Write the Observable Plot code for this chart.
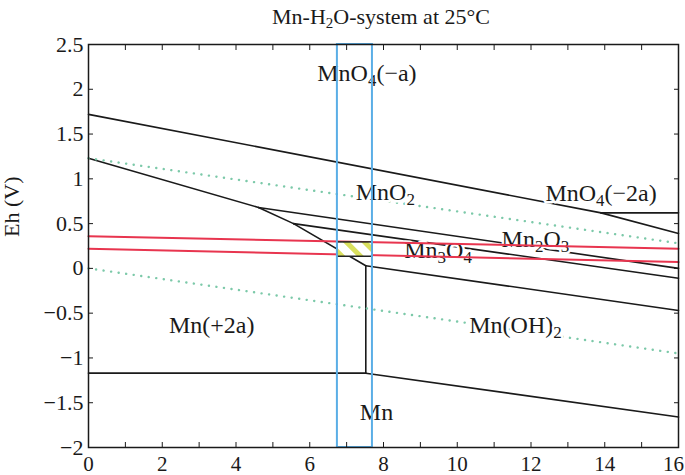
<!DOCTYPE html>
<html><head><meta charset="utf-8">
<script src="https://cdn.jsdelivr.net/npm/d3@7"></script>
<script src="https://cdn.jsdelivr.net/npm/@observablehq/plot@0.6"></script>
<style>
body{margin:0;background:#fff;font-family:"Liberation Serif","Times New Roman",serif;color:#1a1a1a;}
#title{position:relative;height:28px;width:685px;}
#title span{position:absolute;left:381px;top:6px;transform:translateX(-50%);font-size:22px;line-height:22px;white-space:nowrap;}
#title sub{font-size:15px;line-height:0;vertical-align:-4px;}
#chart svg text{font-family:"Liberation Serif","Times New Roman",serif !important;}
</style></head><body>
<div id="title"><span>Mn-H<sub>2</sub>O-system at 25°C</span></div>
<div id="chart"></div>
<script>
// axis domains and ticks
const xDomain = [0, 16];
const yDomain = [-2, 2.5];
const xTicks = [0,1,2,3,4,5,6,7,8,9,10,11,12,13,14,15,16];
const yTicks = [-2,-1.5,-1,-0.5,0,0.5,1,1.5,2,2.5];

// phase boundaries [pH, Eh]
const segMnO4a_MnO2   = [[0,1.72],[13.9,0.62]];
const segMnO4a_MnO4b  = [[13.9,0.62],[16,0.62]];
const segMnO4b_MnO2   = [[13.9,0.62],[16,0.39]];
const segMnO2_Mn2     = [[0,1.23],[4.61,0.68]];
const segMnO2_Mn2O3   = [[4.61,0.68],[16,0.0]];
const segMn2O3_Mn2    = [[4.61,0.68],[5.56,0.50]];
const segMn2O3_Mn3O4  = [[5.56,0.50],[16,-0.11]];
const segMn3O4_Mn2    = [[5.56,0.50],[7.52,0.03]];
const segMn3O4_MnOH2  = [[7.52,0.03],[16,-0.47]];
const segMn2_MnOH2    = [[7.52,0.03],[7.52,-1.17]];
const segMn2_Mn       = [[0,-1.17],[7.52,-1.17]];
const segMnOH2_Mn     = [[7.52,-1.17],[16,-1.66]];

// water stability lines
const waterUpper = [[0,1.23],[16,0.28]];
const waterLower = [[0,0.0],[16,-0.95]];

// red lines
const redUpper = [[0,0.36],[16,0.22]];
const redLower = [[0,0.22],[16,0.07]];

// highlighted pH window and hatched box
const bandX = [6.75, 7.7];
const hatchY = [0.13, 0.29];

// region labels
const labelNames = ["MnO_4(−a)","MnO_2","MnO_4(−2a)","Mn_2O_3","Mn_3O_4","Mn(+2a)","Mn(OH)_2","Mn"];
const labelX = [7.55, 8.05, 13.9, 12.12, 9.48, 3.34, 11.58, 7.81];
const labelY = [2.18, 0.85, 0.84, 0.33, 0.20, -0.64, -0.64, -1.61];

const toRows = (id, pts) => pts.map(([x, y]) => ({id, x, y}));
const blackData = [
  ["a", segMnO4a_MnO2], ["b", segMnO4a_MnO4b], ["c", segMnO4b_MnO2], ["d", segMnO2_Mn2],
  ["e", segMnO2_Mn2O3], ["f", segMn2O3_Mn2], ["g", segMn2O3_Mn3O4], ["h", segMn3O4_Mn2],
  ["i", segMn3O4_MnOH2], ["j", segMn2_MnOH2], ["k", segMn2_Mn], ["l", segMnOH2_Mn]
].flatMap(([id, p]) => toRows(id, p));
const waterData = [...toRows("u", waterUpper), ...toRows("l", waterLower)];
const redData = [...toRows("u", redUpper), ...toRows("l", redLower)];
const labels = labelNames.map((t, i) => ({t, x: labelX[i], y: labelY[i]}));
const band = [{x1: bandX[0], x2: bandX[1], y1: yDomain[0], y2: yDomain[1]}];
const hatch = [{x1: bandX[0], x2: bandX[1], y1: hatchY[0], y2: hatchY[1]}];

const ink = "#1a1a1a";
const chart = Plot.plot({
  width: 685, height: 447,
  marginLeft: 88, marginRight: 7, marginTop: 16, marginBottom: 28,
  x: {domain: xDomain},
  y: {domain: yDomain},
  style: {fontFamily: "Liberation Serif, serif", fontSize: "22px", color: ink, background: "white"},
  marks: [
    Plot.line(blackData, {x: "x", y: "y", z: "id", stroke: ink, strokeWidth: 1.6}),
    Plot.line(waterData, {x: "x", y: "y", z: "id", stroke: "#7cc9a9", strokeWidth: 2.4, strokeDasharray: "0.1,7.5", strokeLinecap: "round"}),
    Plot.text(labels, {x: "x", y: "y", text: "t", textAnchor: "middle", lineAnchor: "middle", fontSize: 24, fill: ink, stroke: "white", strokeWidth: 5}),
    Plot.line(redData, {x: "x", y: "y", z: "id", stroke: "#e8354f", strokeWidth: 2}),
    Plot.rect(hatch, {x1: "x1", x2: "x2", y1: "y1", y2: "y2", fill: "url(#hatch)", stroke: "#222", strokeWidth: 1.5}),
    Plot.rect(band, {x1: "x1", x2: "x2", y1: "y1", y2: "y2", fill: "none", stroke: "#5aaee6", strokeWidth: 2}),
    Plot.frame({stroke: ink, strokeWidth: 1.5}),
    Plot.axisX({anchor: "bottom", ticks: xTicks, tickSize: -5, tickPadding: 14, fontSize: 21, tickFormat: d => d % 2 === 0 ? String(d) : "", label: null}),
    Plot.axisX({anchor: "top", ticks: xTicks, tickSize: -5, tickFormat: () => "", label: null}),
    Plot.axisY({anchor: "left", ticks: yTicks, tickSize: -5, tickPadding: 10, fontSize: 22, tickFormat: d => String(d).replace("-", "−"), label: null}),
    Plot.axisY({anchor: "right", ticks: yTicks, tickSize: -5, tickFormat: () => "", label: null}),
    Plot.text(["Eh (V)"], {frameAnchor: "left", rotate: -90, dx: -77, dy: -9, fontSize: 22, fill: ink})
  ]
});

const ns = "http://www.w3.org/2000/svg";
const defs = document.createElementNS(ns, "defs");
defs.innerHTML = '<pattern id="hatch" patternUnits="userSpaceOnUse" width="13" height="13" patternTransform="rotate(-45)"><rect width="13" height="13" fill="white"/><rect width="5" height="13" fill="#d9df5e"/></pattern>';
chart.insertBefore(defs, chart.firstChild);

chart.querySelectorAll("text").forEach(t => {
  const s = t.textContent;
  if (s === "16") t.setAttribute("dx", "-5");
  if (!s.includes("_")) return;
  t.textContent = "";
  s.split(/_(\d)/).forEach((p, i) => {
    if (!p) return;
    const ts = document.createElementNS(ns, "tspan");
    ts.textContent = p;
    if (i % 2 === 1) { ts.setAttribute("font-size", "17"); ts.setAttribute("dy", "5"); }
    else if (i > 0) ts.setAttribute("dy", "-5");
    t.appendChild(ts);
  });
});

document.getElementById("chart").appendChild(chart);
</script></body></html>
